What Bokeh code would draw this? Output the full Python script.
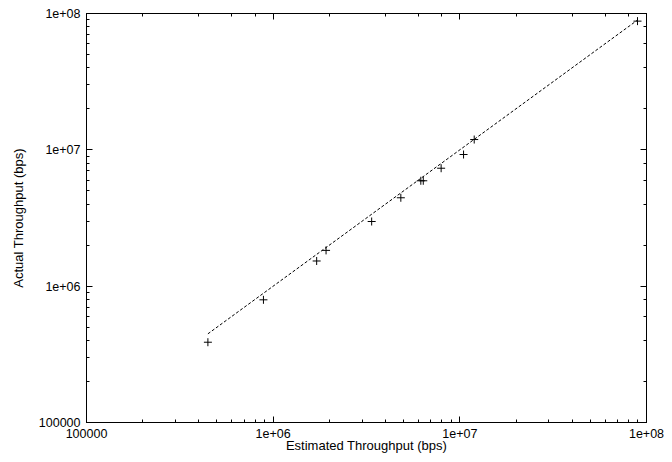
from bokeh.plotting import figure
from bokeh.models import Range1d, LogAxis
from bokeh.embed import file_html
from bokeh.resources import INLINE

estimated = [4.47e5, 8.87e5, 1.71e6, 1.92e6, 3.37e6, 4.83e6, 6.18e6, 6.37e6, 7.94e6, 1.047e7, 1.194e7, 8.95e7]
actual = [3.88e5, 7.94e5, 1.53e6, 1.83e6, 2.98e6, 4.45e6, 5.93e6, 5.93e6, 7.33e6, 9.24e6, 1.19e7, 8.79e7]
fit_x = [min(estimated), max(estimated)]
fit_y = [min(estimated), max(estimated)]

tick_values = [1e5, 1e6, 1e7, 1e8]
tick_labels = ["100000", "1e+06", "1e+07", "1e+08"]

x_label = "Estimated Throughput (bps)"
y_label = "Actual Throughput (bps)"

FONT = "Liberation Sans"
TICK_FS = "12.5px"
LABEL_FS = "13px"

p = figure(
    x_axis_type="log", y_axis_type="log",
    x_range=Range1d(1e5, 1e8), y_range=Range1d(1e5, 1e8),
    frame_width=560, frame_height=409,
    min_border_left=86, min_border_top=13, min_border_right=18, min_border_bottom=32,
    output_backend="svg", toolbar_location=None,
)
p.xgrid.visible = False
p.ygrid.visible = False
p.outline_line_color = "black"
p.outline_line_width = 1
p.background_fill_color = "white"
p.border_fill_color = "white"

p.line(fit_x, fit_y, line_color="black", line_width=1, line_dash="3 2")
p.scatter(estimated, actual, marker="cross", size=8, line_color="black", line_width=1)

def style(ax, labels=True):
    ax.axis_line_color = "black"
    ax.axis_line_width = 1
    ax.major_tick_in = 6
    ax.major_tick_out = 0
    ax.minor_tick_in = 3
    ax.minor_tick_out = 0
    ax.major_tick_line_color = "black"
    ax.minor_tick_line_color = "black"
    ax.major_label_text_font = FONT
    ax.major_label_text_font_size = TICK_FS if labels else "1px"
    ax.major_label_text_color = "black" if labels else None
    ax.axis_label_text_font = FONT
    ax.axis_label_text_font_size = LABEL_FS
    ax.axis_label_text_font_style = "normal"
    ax.axis_label_text_color = "black"

overrides = {v: s for v, s in zip(tick_values, tick_labels)}

xa = p.xaxis[0]
ya = p.yaxis[0]
style(xa)
style(ya)
xa.axis_label = x_label
ya.axis_label = y_label
xa.major_label_standoff = 6
ya.major_label_standoff = 6
xa.axis_label_standoff = -3
ya.axis_label_standoff = 10
xa.major_label_overrides = overrides
ya.major_label_overrides = overrides

top = LogAxis()
right = LogAxis()
style(top, labels=False)
style(right, labels=False)
top.major_label_standoff = 0
right.major_label_standoff = 0
p.add_layout(top, "above")
p.add_layout(right, "right")

open("out.html", "w").write(file_html(p, INLINE))
